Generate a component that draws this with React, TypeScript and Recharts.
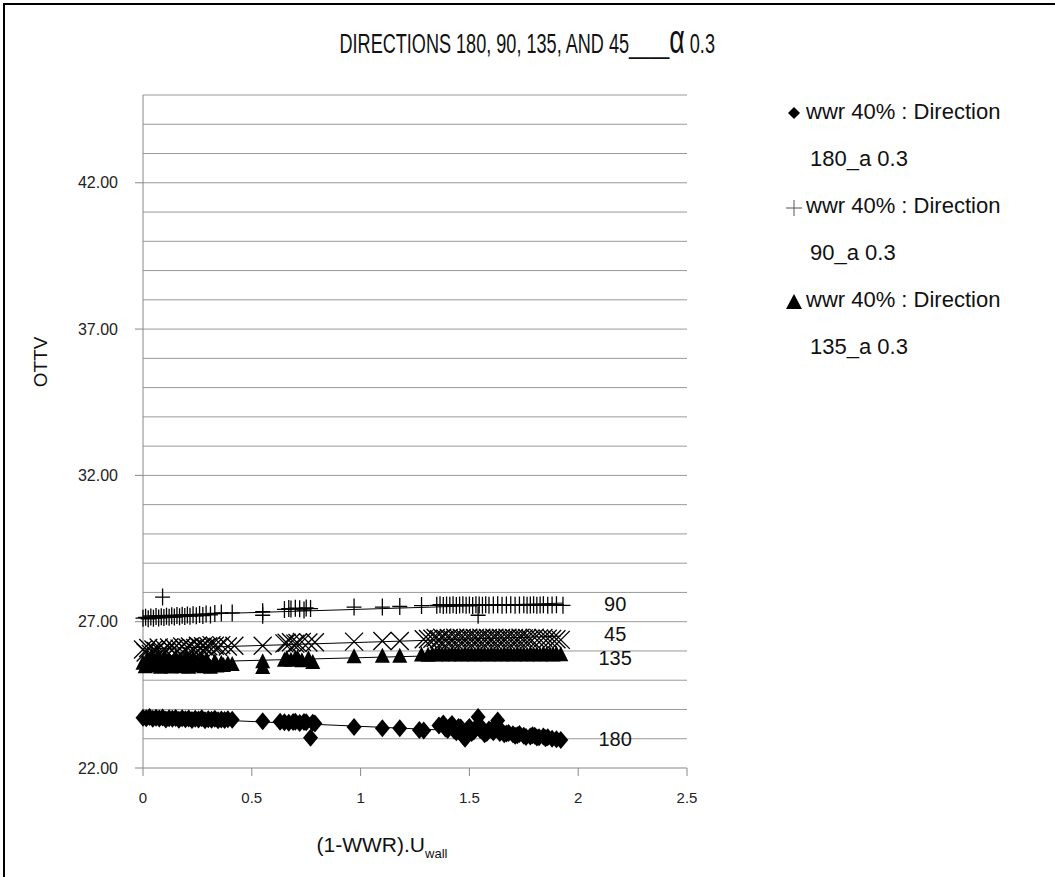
import React from 'react'
import {
  ReferenceDot,
  ReferenceLine,
  Scatter,
  ScatterChart,
  XAxis,
  YAxis,
} from 'recharts'

document.body.style.margin = '0'

const FONT = '"Liberation Sans", Arial, sans-serif'

const xTicks = [0, 0.5, 1, 1.5, 2, 2.5]
const yTicks = [22, 27, 32, 37, 42]
const gridValues = [23, 24, 25, 26, 27, 28, 29, 30, 31, 32, 33, 34, 35, 36, 37, 38, 39, 40, 41, 42, 43, 44, 45]

// direction 180 (diamonds)
const dir180 = [
  [0.0, 23.72], [0.015, 23.7], [0.03, 23.74], [0.045, 23.68], [0.06, 23.72], [0.075, 23.69],
  [0.09, 23.73], [0.105, 23.66], [0.12, 23.7], [0.135, 23.68], [0.15, 23.71], [0.165, 23.65],
  [0.18, 23.7], [0.195, 23.67], [0.21, 23.69], [0.225, 23.64], [0.24, 23.68], [0.255, 23.66],
  [0.27, 23.7], [0.285, 23.63], [0.3, 23.67], [0.315, 23.65], [0.33, 23.68], [0.345, 23.63],
  [0.36, 23.66], [0.375, 23.64], [0.39, 23.67], [0.41, 23.65], [0.55, 23.6], [0.63, 23.58],
  [0.65, 23.56], [0.67, 23.55], [0.69, 23.57], [0.7, 23.58], [0.72, 23.54], [0.74, 23.57],
  [0.75, 23.56], [0.77, 23.03], [0.78, 23.55], [0.79, 23.52], [0.97, 23.4], [1.1, 23.36],
  [1.18, 23.36], [1.27, 23.3], [1.29, 23.28], [1.36, 23.45], [1.38, 23.52], [1.39, 23.35],
  [1.4, 23.3], [1.41, 23.42], [1.42, 23.5], [1.43, 23.28], [1.44, 23.22], [1.45, 23.4],
  [1.46, 23.38], [1.47, 23.1], [1.48, 23.0], [1.49, 23.32], [1.5, 23.4], [1.51, 23.2],
  [1.52, 23.25], [1.53, 23.38], [1.54, 23.74], [1.55, 23.3], [1.56, 23.35], [1.57, 23.15],
  [1.58, 23.2], [1.59, 23.32], [1.6, 23.3], [1.61, 23.22], [1.63, 23.62], [1.64, 23.2],
  [1.65, 23.25], [1.66, 23.15], [1.67, 23.18], [1.68, 23.2], [1.7, 23.15], [1.71, 23.1],
  [1.72, 23.12], [1.73, 23.16], [1.75, 23.1], [1.76, 23.06], [1.78, 23.08], [1.79, 23.12],
  [1.8, 23.1], [1.81, 23.04], [1.82, 23.05], [1.84, 23.08], [1.85, 23.02], [1.86, 23.05],
  [1.88, 23.0], [1.9, 22.98], [1.92, 22.96],
]

// direction 90 (plus)
const dir90 = [
  [0.0, 27.12], [0.012, 27.15], [0.024, 27.1], [0.036, 27.16], [0.048, 27.12], [0.06, 27.18],
  [0.072, 27.13], [0.084, 27.17], [0.09, 27.84], [0.096, 27.14], [0.108, 27.19], [0.12, 27.15],
  [0.132, 27.2], [0.144, 27.16], [0.156, 27.21], [0.168, 27.17], [0.18, 27.22], [0.192, 27.18],
  [0.204, 27.23], [0.216, 27.19], [0.23, 27.24], [0.245, 27.2], [0.26, 27.25], [0.275, 27.21],
  [0.29, 27.26], [0.31, 27.23], [0.33, 27.28], [0.36, 27.3], [0.41, 27.3], [0.55, 27.22],
  [0.55, 27.34], [0.65, 27.42], [0.67, 27.45], [0.68, 27.43], [0.7, 27.46], [0.72, 27.44],
  [0.74, 27.4], [0.75, 27.47], [0.77, 27.45], [0.97, 27.5], [1.1, 27.5], [1.18, 27.52],
  [1.28, 27.55], [1.35, 27.56], [1.365, 27.58], [1.38, 27.55], [1.395, 27.57], [1.41, 27.56],
  [1.425, 27.58], [1.44, 27.55], [1.455, 27.57], [1.47, 27.58], [1.485, 27.56], [1.5, 27.57],
  [1.515, 27.55], [1.53, 27.58], [1.54, 27.22], [1.545, 27.57], [1.56, 27.56], [1.575, 27.58],
  [1.59, 27.56], [1.61, 27.57], [1.63, 27.58], [1.65, 27.56], [1.67, 27.57], [1.69, 27.58],
  [1.71, 27.56], [1.73, 27.57], [1.75, 27.58], [1.765, 27.56], [1.78, 27.57], [1.795, 27.58],
  [1.81, 27.56], [1.825, 27.57], [1.84, 27.58], [1.86, 27.56], [1.88, 27.57], [1.9, 27.58],
  [1.93, 27.56],
]

// direction 135 (triangles)
const dir135 = [
  [0.0, 25.6], [0.01, 25.48], [0.02, 25.75], [0.03, 25.52], [0.04, 25.82], [0.05, 25.5],
  [0.06, 25.7], [0.07, 25.8], [0.08, 25.46], [0.09, 25.62], [0.1, 25.78], [0.11, 25.5],
  [0.12, 25.7], [0.13, 25.47], [0.14, 25.64], [0.15, 25.78], [0.16, 25.52], [0.17, 25.72],
  [0.18, 25.48], [0.19, 25.68], [0.2, 25.8], [0.21, 25.46], [0.22, 25.6], [0.23, 25.75],
  [0.24, 25.5], [0.25, 25.66], [0.26, 25.52], [0.27, 25.72], [0.28, 25.48], [0.29, 25.7],
  [0.3, 25.58], [0.31, 25.46], [0.33, 25.65], [0.34, 25.5], [0.36, 25.6], [0.37, 25.52],
  [0.39, 25.58], [0.41, 25.55], [0.55, 25.45], [0.55, 25.65], [0.65, 25.7], [0.66, 25.75],
  [0.68, 25.7], [0.7, 25.76], [0.71, 25.78], [0.73, 25.68], [0.76, 25.75], [0.78, 25.62],
  [0.97, 25.82], [1.1, 25.84], [1.18, 25.84], [1.28, 25.88], [1.31, 25.87], [1.33, 25.9],
  [1.345, 25.88], [1.36, 25.91], [1.375, 25.89], [1.39, 25.9], [1.405, 25.88], [1.42, 25.91],
  [1.435, 25.89], [1.45, 25.9], [1.465, 25.88], [1.48, 25.91], [1.495, 25.89], [1.51, 25.9],
  [1.525, 25.88], [1.54, 25.91], [1.555, 25.89], [1.57, 25.9], [1.585, 25.88], [1.6, 25.91],
  [1.615, 25.89], [1.63, 25.9], [1.645, 25.88], [1.66, 25.91], [1.675, 25.89], [1.69, 25.9],
  [1.705, 25.88], [1.72, 25.91], [1.735, 25.89], [1.75, 25.9], [1.765, 25.88], [1.78, 25.91],
  [1.795, 25.89], [1.81, 25.9], [1.825, 25.88], [1.84, 25.91], [1.855, 25.89], [1.87, 25.9],
  [1.885, 25.88], [1.9, 25.91], [1.92, 25.89],
]

// direction 45 (x marks)
const dir45 = [
  [0.0, 26.05], [0.012, 25.95], [0.024, 26.1], [0.036, 25.9], [0.048, 26.05], [0.06, 26.0],
  [0.072, 26.12], [0.084, 25.95], [0.096, 26.08], [0.108, 25.98], [0.12, 26.12], [0.132, 26.02],
  [0.144, 26.1], [0.156, 26.0], [0.168, 26.08], [0.18, 26.15], [0.192, 26.05], [0.204, 26.12],
  [0.216, 26.15], [0.228, 26.08], [0.24, 26.1], [0.252, 26.18], [0.264, 26.12], [0.276, 26.16],
  [0.288, 26.12], [0.3, 26.16], [0.315, 26.2], [0.33, 26.18], [0.345, 26.14], [0.36, 26.2],
  [0.39, 26.15], [0.42, 26.18], [0.55, 26.18], [0.65, 26.26], [0.66, 26.28], [0.68, 26.3],
  [0.7, 26.25], [0.71, 26.27], [0.73, 26.31], [0.76, 26.29], [0.79, 26.3], [0.97, 26.32],
  [1.1, 26.34], [1.18, 26.34], [1.29, 26.4], [1.31, 26.41], [1.33, 26.42], [1.345, 26.44],
  [1.36, 26.4], [1.375, 26.45], [1.39, 26.42], [1.405, 26.44], [1.42, 26.41], [1.435, 26.45],
  [1.45, 26.43], [1.465, 26.44], [1.48, 26.42], [1.495, 26.45], [1.51, 26.43], [1.525, 26.44],
  [1.54, 26.42], [1.555, 26.45], [1.57, 26.43], [1.585, 26.44], [1.6, 26.42], [1.615, 26.45],
  [1.63, 26.43], [1.645, 26.44], [1.66, 26.42], [1.675, 26.45], [1.69, 26.43], [1.705, 26.44],
  [1.72, 26.42], [1.735, 26.45], [1.75, 26.43], [1.765, 26.44], [1.78, 26.42], [1.8, 26.45],
  [1.82, 26.43], [1.84, 26.44], [1.86, 26.42], [1.88, 26.41], [1.9, 26.4], [1.92, 26.38],
]

// end-of-series direction tags
const tagNames = ['90', '45', '135', '180']
const tagY = [27.6, 26.58, 25.76, 22.99]
const tagX = 2.17

const legendItems = [
  { marker: 'diamond', name: 'wwr 40% : Direction', sub: '180_a 0.3' },
  { marker: 'plus', name: 'wwr 40% : Direction', sub: '90_a 0.3' },
  { marker: 'triangle', name: 'wwr 40% : Direction', sub: '135_a 0.3' },
]

const toPoints = (rows: number[][]) => rows.map(([x, y]) => ({ x, y }))

const Diamond = ({ cx, cy }: any) => (
  <path d={`M${cx},${cy - 9}L${cx + 7.5},${cy}L${cx},${cy + 9}L${cx - 7.5},${cy}Z`} fill="#000" />
)
const Plus = ({ cx, cy }: any) => (
  <path d={`M${cx - 7.5},${cy}H${cx + 7.5}M${cx},${cy - 8.5}V${cy + 8.5}`} stroke="#000" strokeWidth={1.3} fill="none" />
)
const Triangle = ({ cx, cy }: any) => (
  <path d={`M${cx},${cy - 8}L${cx + 7.5},${cy + 7}L${cx - 7.5},${cy + 7}Z`} fill="#000" />
)
const Cross = ({ cx, cy }: any) => (
  <path d={`M${cx - 9},${cy - 9}L${cx + 9},${cy + 9}M${cx - 9},${cy + 9}L${cx + 9},${cy - 9}`} stroke="#000" strokeWidth={1.3} fill="none" />
)

function LegendMarker({ kind }: { kind: string }) {
  return (
    <svg width={18} height={18} style={{ position: 'absolute', left: -21, top: 5 }}>
      {kind === 'diamond' && <path d="M9,3L15,9L9,15L3,9Z" fill="#000" />}
      {kind === 'plus' && <path d="M1,10H17M9,2V18" stroke="#555" strokeWidth={1} />}
      {kind === 'triangle' && <path d="M9,2L17,17H1Z" fill="#000" />}
    </svg>
  )
}

const XLabel = () => (
  <text x={382} y={852} textAnchor="middle" fontFamily={FONT} fill="#111">
    <tspan fontSize={21}>(1-WWR).U</tspan>
    <tspan fontSize={13} dy={6}>wall</tspan>
  </text>
)

const YLabel = () => (
  <text x={47} y={362} textAnchor="middle" fontFamily={FONT} fontSize={19} fill="#111" transform="rotate(-90 47 362)">
    OTTV
  </text>
)

export default function App() {
  return (
    <div style={{ position: 'relative', width: 1055, height: 877, background: '#fff', overflow: 'hidden' }}>
      <div style={{ position: 'absolute', left: 3, top: 3, width: 1070, height: 900, borderLeft: '2px solid #000', borderTop: '2px solid #000' }} />
      <div style={{ position: 'absolute', top: 26, left: 0, width: 1055, textAlign: 'center' }}>
        <span style={{ display: 'inline-block', transform: 'scaleX(0.67)', fontFamily: FONT, fontSize: 27, color: '#111', whiteSpace: 'pre' }}>
          DIRECTIONS 180, 90, 135, AND 45____<span style={{ fontSize: 40, lineHeight: '27px' }}>α</span> 0.3
        </span>
      </div>
      <div style={{ position: 'absolute', left: 806, top: 99, fontFamily: FONT, fontSize: 22, color: '#111' }}>
        {legendItems.map((it) => (
          <div key={it.sub} style={{ position: 'relative', height: 94 }}>
            <LegendMarker kind={it.marker} />
            <div style={{ lineHeight: '26px' }}>{it.name}</div>
            <div style={{ lineHeight: '26px', marginTop: 21, marginLeft: 4 }}>{it.sub}</div>
          </div>
        ))}
      </div>
      <div style={{ position: 'absolute', left: 0, top: 0 }}>
        <ScatterChart width={1055} height={877} margin={{ top: 95, right: 368, bottom: 69, left: 63 }}>
          <XAxis
            type="number"
            dataKey="x"
            domain={[0, 2.5]}
            ticks={xTicks}
            height={40}
            tickSize={8}
            tickMargin={16}
            stroke="#888"
            fontSize={15}
            tick={{ fill: '#222', fontSize: 15, fontFamily: FONT }}
            tickFormatter={(v) => String(v)}
            label={<XLabel />}
          />
          <YAxis
            type="number"
            dataKey="y"
            domain={[22, 45]}
            ticks={yTicks}
            width={80}
            tickSize={8}
            tickMargin={17}
            stroke="#888"
            fontSize={16}
            tick={{ fill: '#222', fontSize: 16, fontFamily: FONT }}
            tickFormatter={(v) => Number(v).toFixed(2)}
            label={<YLabel />}
          />
          {gridValues.map((v) => (
            <ReferenceLine key={v} y={v} stroke="#999" strokeWidth={1} />
          ))}
          <Scatter data={toPoints(dir180)} shape={Diamond} line={{ stroke: '#000', strokeWidth: 1 }} lineType="fitting" isAnimationActive={false} />
          <Scatter data={toPoints(dir135)} shape={Triangle} line={{ stroke: '#000', strokeWidth: 1 }} lineType="fitting" isAnimationActive={false} />
          <Scatter data={toPoints(dir45)} shape={Cross} line={{ stroke: '#000', strokeWidth: 1 }} lineType="fitting" isAnimationActive={false} />
          <Scatter data={toPoints(dir90)} shape={Plus} line={{ stroke: '#000', strokeWidth: 1 }} lineType="fitting" isAnimationActive={false} />
          {tagNames.map((t, i) => (
            <ReferenceDot
              key={t}
              x={tagX}
              y={tagY[i]}
              r={0}
              fill="none"
              stroke="none"
              label={{ value: t, position: 'center', fill: '#111', fontSize: 20, fontFamily: FONT }}
            />
          ))}
        </ScatterChart>
      </div>
    </div>
  )
}
